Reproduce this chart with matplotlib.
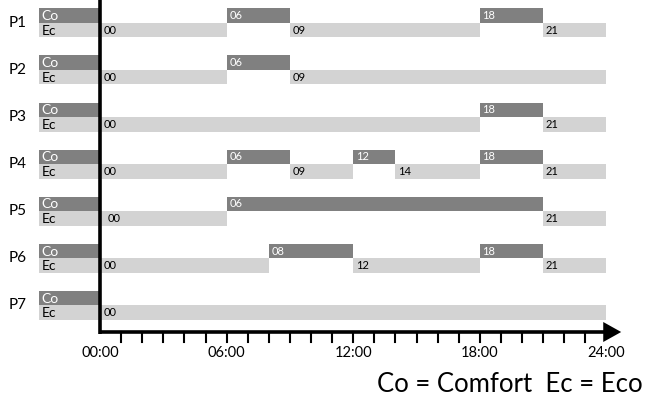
import matplotlib.pyplot as plt
from matplotlib.patches import Polygon

plt.rcParams['font.family'] = ['Lato', 'DejaVu Sans']

programs = ['P1', 'P2', 'P3', 'P4', 'P5', 'P6', 'P7']
comfort = [[(6, 9), (18, 21)],
           [(6, 9)],
           [(18, 21)],
           [(6, 9), (12, 14), (18, 21)],
           [(6, 21)],
           [(8, 12), (18, 21)],
           []]
eco = [[(0, 6), (9, 18), (21, 24)],
       [(0, 6), (9, 24)],
       [(0, 18), (21, 24)],
       [(0, 6), (9, 12), (14, 18), (21, 24)],
       [(0, 6), (21, 24)],
       [(0, 8), (12, 18), (21, 24)],
       [(0, 24)]]
tick_hours = [0, 6, 12, 18, 24]
legend_text = 'Co = Comfort  Ec = Eco'

DARK = '#808080'
LIGHT = '#d3d3d3'
PX = 47.1           # pixels per row unit
W, H = 649, 397
X0, XS = 100, 21.1  # pixel of hour 0, pixels per hour

fig = plt.figure(figsize=(W / 100, H / 100), dpi=100)
ax = fig.add_axes([0, 0, 1, 1])
ax.set_xlim(-X0 / XS, (W - X0) / XS)
ax.set_ylim(H / PX, 0)
ax.axis('off')

co_top, bar_h = 8.3 / PX, 14.5 / PX
ec_top = co_top + bar_h
lab_x0 = -61 / XS

for i, name in enumerate(programs):
    ax.text(-91 / XS, i + ec_top, name, ha='left', va='center', fontsize=11)
    # Co / Ec key blocks left of the axis
    ax.barh(i + co_top, -lab_x0, left=lab_x0, height=bar_h, align='edge', color=DARK)
    ax.barh(i + ec_top, -lab_x0, left=lab_x0, height=bar_h, align='edge', color=LIGHT)
    ax.text(lab_x0 + 0.12, i + co_top + bar_h / 2 + 0.01, 'Co', color='white',
            va='center', fontsize=10)
    ax.text(lab_x0 + 0.12, i + ec_top + bar_h / 2 + 0.01, 'Ec', color='black',
            va='center', fontsize=10)
    for s, e in comfort[i]:
        ax.barh(i + co_top, e - s, left=s, height=bar_h, align='edge', color=DARK)
        ax.text(s + 0.12, i + co_top + bar_h / 2, '%02d' % s, color='white',
                va='center', fontsize=8)
    for s, e in eco[i]:
        ax.barh(i + ec_top, e - s, left=s, height=bar_h, align='edge', color=LIGHT)
        off = 0.12
        if s == 0:
            off = 0.38 if i == 4 else 0.16
        ax.text(s + off, i + ec_top + bar_h / 2, '%02d' % s, color='black',
                va='center', fontsize=8)

# axes
y_axis = 332 / PX
ax.plot([0, 0], [0, 334 / PX], color='black', lw=2.6, solid_capstyle='butt')
ax.plot([0, 23.95], [y_axis, y_axis], color='black', lw=2.6, solid_capstyle='butt')
ax.add_patch(Polygon([[23.85, y_axis - 10 / PX], [24.7, y_axis], [23.85, y_axis + 10 / PX]],
                     closed=True, color='black', lw=0))
for h in range(1, 24):
    ax.plot([h, h], [y_axis, 342 / PX], color='black', lw=1.5)
for h in tick_hours:
    ax.text(h, 353 / PX, '%02d:00' % h, ha='center', va='center', fontsize=10.5)

ax.text((643 - X0) / XS, 384 / PX, legend_text, ha='right', va='center', fontsize=18.5)

fig.savefig('out.png', dpi=100)
